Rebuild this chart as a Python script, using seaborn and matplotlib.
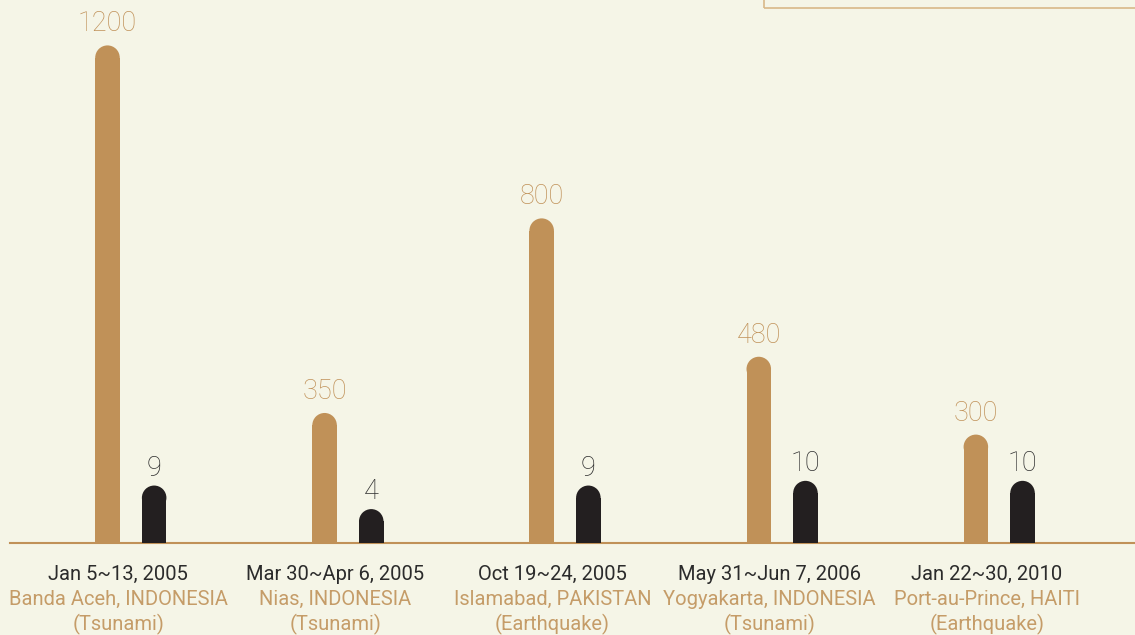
import numpy as np
import pandas as pd
import matplotlib.pyplot as plt
import seaborn as sns
from matplotlib.patches import Rectangle, Ellipse

# ===== data =====
dates = ['Jan 5~13, 2005', 'Mar 30~Apr 6, 2005', 'Oct 19~24, 2005',
         'May 31~Jun 7, 2006', 'Jan 22~30, 2010']
places = ['Banda Aceh, INDONESIA', 'Nias, INDONESIA', 'Islamabad, PAKISTAN',
          'Yogyakarta, INDONESIA', 'Port-au-Prince, HAITI']
kinds = ['(Tsunami)', '(Tsunami)', '(Earthquake)', '(Tsunami)', '(Earthquake)']
gold_vals = [1200, 350, 800, 480, 300]
black_vals = [9, 4, 9, 10, 10]

# ===== style =====
GOLD = '#c09158'
GOLD_TXT = '#c59c68'
BLACK = '#231f20'
BLACK_TXT = '#2e2e2e'
BG = '#f5f5e7'

sns.set_theme(style='white')
plt.rcParams['font.family'] = ['Roboto', 'DejaVu Sans']

W, H = 1135, 635
fig = plt.figure(figsize=(W / 100, H / 100), dpi=100, facecolor=BG)
ax = fig.add_axes([10 / W, 92 / H, 1125 / W, 543 / H])
ax.set_facecolor(BG)
ax2 = ax.twinx()
ax2.patch.set_visible(False)

df = pd.DataFrame({'event': dates, 'gold': gold_vals, 'black': black_vals})

bar_w = 0.113
sns.barplot(data=df, x='event', y='gold', color=GOLD, saturation=1,
            width=bar_w, ax=ax)
sns.barplot(data=df, x='event', y='black', color=BLACK, saturation=1,
            width=bar_w, ax=ax2)

xlim = (-0.499, 4.683)
ax.set_xlim(*xlim)
ax2.set_xlim(*xlim)
ax.set_ylim(49.3, 1305)
ax2.set_ylim(-3.2, 112.1)

bbox = ax.get_window_extent()
px_per_x = bbox.width / (xlim[1] - xlim[0])
r_px = bar_w * px_per_x / 2


def round_bars(axis, vals, shift, color, txt_color, gap):
    # rounded tops: shorten each bar by the cap radius and add a half-ellipse
    y0, y1 = axis.get_ylim()
    r_data = r_px * (y1 - y0) / bbox.height
    for patch, v in zip(list(axis.patches), vals):
        patch.set_x(patch.get_x() + shift)
        patch.set_linewidth(0)
        cx = patch.get_x() + patch.get_width() / 2
        patch.set_y(y0)
        patch.set_height(v - r_data - y0)
        axis.add_patch(Ellipse((cx, v - r_data), patch.get_width(), 2 * r_data,
                               facecolor=color, linewidth=0,
                               zorder=patch.get_zorder()))
        axis.annotate(f'{v}', xy=(cx, v), xytext=(0, gap),
                      textcoords='offset pixels', ha='center', va='baseline',
                      fontsize=19.5, fontweight='light', color=txt_color)


round_bars(ax, gold_vals, -0.05, GOLD, GOLD, 14)
round_bars(ax2, black_vals, 0.165, BLACK, BLACK_TXT, 10)

# category labels below the baseline
tr = ax.get_xaxis_transform()
for i in range(len(dates)):
    ax.annotate(dates[i], xy=(i, 0), xycoords=tr, xytext=(0, -37),
                textcoords='offset pixels', ha='center', va='baseline',
                fontsize=14.5, color='#2b2b2b', annotation_clip=False)
    ax.annotate(places[i], xy=(i, 0), xycoords=tr, xytext=(0, -62),
                textcoords='offset pixels', ha='center', va='baseline',
                fontsize=14.5, color=GOLD_TXT, annotation_clip=False)
    ax.annotate(kinds[i], xy=(i, 0), xycoords=tr, xytext=(0, -87),
                textcoords='offset pixels', ha='center', va='baseline',
                fontsize=14.5, color=GOLD_TXT, annotation_clip=False)

for a in (ax, ax2):
    a.set_xlabel('')
    a.set_ylabel('')
    a.set_xticks([])
    a.set_yticks([])
    for side in ('top', 'left', 'right', 'bottom'):
        a.spines[side].set_visible(False)
ax.spines['bottom'].set_visible(True)
ax.spines['bottom'].set_color(GOLD)
ax.spines['bottom'].set_linewidth(1.5)
ax.spines['bottom'].set_zorder(5)

# legend frame peeking in at the top right
fig.add_artist(Rectangle((764 / W, (H - 8) / H), 0.5, 0.1,
                         transform=fig.transFigure, fill=False,
                         edgecolor='#d9b889', linewidth=1.2))

fig.savefig('out.png', dpi=100, facecolor=BG)
